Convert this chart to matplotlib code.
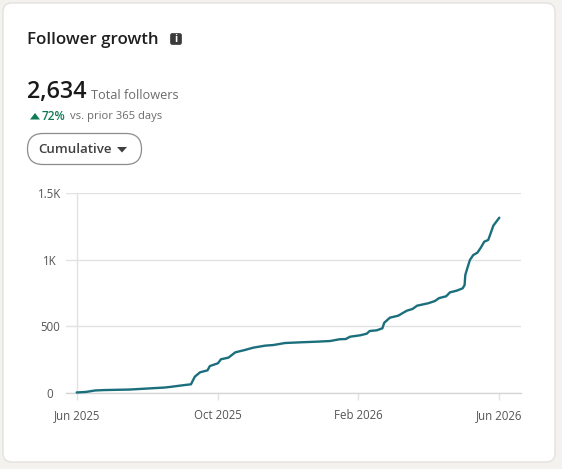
import matplotlib
matplotlib.use('Agg')
import matplotlib.pyplot as plt
from matplotlib.patches import FancyBboxPatch, Polygon

# days since the start of the range, and the cumulative follower count
days = [0, 8, 16, 24, 46, 76, 82, 93.5, 98.7, 102, 106.5, 113, 115, 122, 124.6,
        131, 137, 145, 152.5, 162.6, 170, 180, 193, 207.5, 219, 227, 232.5, 236,
        245, 250.5, 253, 259, 264, 265.6, 270.5, 277.7, 285, 290, 294, 303.6,
        309.4, 313, 319, 322.4, 328, 333.3, 335, 335.6, 337.3, 339.6, 342.5, 346,
        349, 352, 355.4, 357.5, 359.8, 365]
followers = [4, 8, 19, 22, 26, 41, 47, 60, 65, 122, 155, 170, 202, 223, 253,
             265, 305, 322, 340, 355, 360, 375, 380, 385, 390, 403, 405, 422,
             433, 445, 465, 470, 485, 527, 565, 580, 617, 630, 655, 673,
             690, 712, 725, 755, 767, 785, 810, 885, 935, 998, 1035, 1052,
             1090, 1135, 1148, 1198, 1255, 1315]

x_ticks = [0, 121.7, 243.3, 365]
x_labels = ['Jun 2025', 'Oct 2025', 'Feb 2026', 'Jun 2026']
y_ticks = [0, 500, 1000, 1500]
y_labels = ['0', '500', '1K', '1.5K']

W, H = 562, 469
plt.rcParams['font.family'] = ['Open Sans', 'DejaVu Sans']

fig = plt.figure(figsize=(W / 100, H / 100), dpi=100, facecolor='#f4f2ee')

# overlay in pixel coordinates for the card and header
bg = fig.add_axes([0, 0, 1, 1])
bg.set_xlim(0, W)
bg.set_ylim(H, 0)
bg.axis('off')

bg.add_patch(FancyBboxPatch((3, 3), 552, 459, boxstyle='round,pad=0,rounding_size=9',
                            fc='white', ec='#e4e2de', lw=1))

bg.text(27, 40, 'Follower growth', fontsize=12.2, color='#1f1f1f', va='center', weight='semibold')
bg.add_patch(FancyBboxPatch((170.5, 33.5), 11, 11, boxstyle='round,pad=0,rounding_size=2',
                            fc='#3a3a3a', ec='#3a3a3a', lw=0.5))
bg.text(176, 39, 'i', fontsize=7.5, color='white', ha='center', va='center', weight='bold')

bg.text(27, 92, '2,634', fontsize=16.8, color='#1a1a1a', va='center', weight='semibold')
bg.text(91, 95.5, 'Total followers', fontsize=9.2, color='#6b6b6b', va='center')

bg.add_patch(Polygon([(30, 119.5), (40, 119.5), (35, 113)], closed=True, fc='#0f7a56', ec='none'))
bg.text(42, 116, '72%', fontsize=8.6, color='#0f7a56', va='center', weight='semibold')
bg.text(70, 116, 'vs. prior 365 days', fontsize=8.15, color='#6b6b6b', va='center')

bg.add_patch(FancyBboxPatch((27.5, 133.5), 114, 31, boxstyle='round,pad=0,rounding_size=15.5',
                            fc='white', ec='#8c8c8c', lw=0.9))
bg.text(38.5, 149.5, 'Cumulative', fontsize=9.6, color='#404040', va='center', weight='semibold')
bg.add_patch(Polygon([(117, 147), (127, 147), (122, 152.5)], closed=True, fc='#404040', ec='none'))

# the chart itself: 66-521 px across, 193-393 px down
ax = fig.add_axes([66 / W, 1 - 393 / H, 455 / W, 200 / H])
ax.patch.set_alpha(0)
ax.set_xlim(-9.2, 383.7)
ax.set_ylim(0, 1500)
for side in ax.spines.values():
    side.set_visible(False)

ax.grid(axis='y', color='#e2e2e2', lw=1)
ax.set_axisbelow(True)
ax.axhline(0, color='#d6d6d6', lw=1, clip_on=False)
ax.axvline(0, color='#e2e2e2', lw=1, zorder=1)

ax.plot(days, followers, color='#1b6f7d', lw=1.7, solid_capstyle='round', clip_on=False, zorder=3)

ax.set_xticks(x_ticks, x_labels)
ax.set_yticks(y_ticks, y_labels)
ax.tick_params(axis='x', length=5, width=1, color='#e2e2e2', pad=6.5, labelsize=8.3, labelcolor='#555555')
ax.tick_params(axis='y', length=0, pad=11.5, labelsize=8.3, labelcolor='#555555')
for label in ax.get_yticklabels():
    label.set_ha('center')

fig.savefig('out.png', dpi=100, facecolor=fig.get_facecolor())
